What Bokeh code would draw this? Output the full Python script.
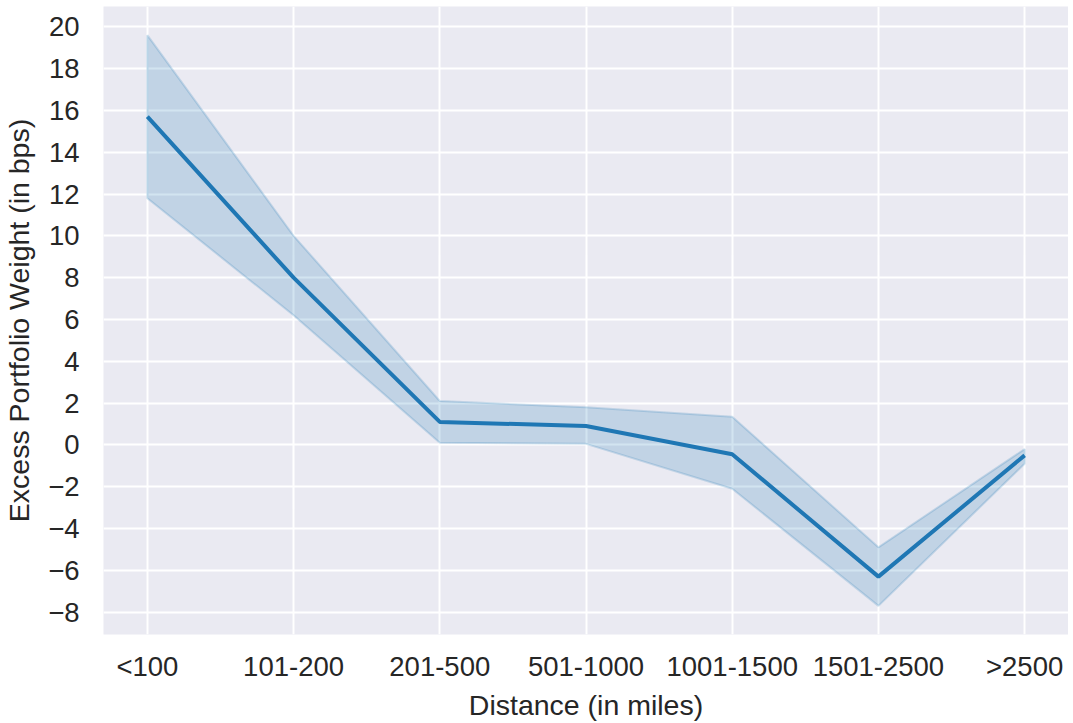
from bokeh.plotting import figure
from bokeh.models import FixedTicker, CustomJSTickFormatter, Range1d
from bokeh.embed import file_html
from bokeh.resources import INLINE

categories = ["<100", "101-200", "201-500", "501-1000", "1001-1500", "1501-2500", ">2500"]
mean_vals = [15.7, 8.0, 1.1, 0.9, -0.45, -6.3, -0.5]
upper_vals = [19.6, 10.0, 2.1, 1.8, 1.35, -4.9, -0.2]
lower_vals = [11.8, 6.2, 0.1, 0.05, -2.1, -7.7, -0.9]
y_ticks = [-8, -6, -4, -2, 0, 2, 4, 6, 8, 10, 12, 14, 16, 18, 20]

xs = list(range(len(categories)))
FONT = "Liberation Sans"
TXT = "#262626"
BLUE = "#1f77b4"

p = figure(frame_width=965, frame_height=628, output_backend="svg", toolbar_location=None,
           x_range=Range1d(-0.3, 6.3), y_range=Range1d(-9.07, 20.97),
           min_border_left=98, min_border_right=0, min_border_top=6, min_border_bottom=81)
p.background_fill_color = "#EAEAF2"
p.border_fill_color = "white"
p.outline_line_color = None

p.patch(xs + xs[::-1], upper_vals + lower_vals[::-1], fill_color=BLUE, fill_alpha=0.2,
        line_color=BLUE, line_alpha=0.2, line_width=2)
p.line(xs, mean_vals, line_color=BLUE, line_width=4)

p.xaxis.ticker = FixedTicker(ticks=xs)
p.xaxis.formatter = CustomJSTickFormatter(args=dict(labels=categories),
                                          code="return labels[Math.round(tick)];")
p.yaxis.ticker = FixedTicker(ticks=y_ticks)
p.yaxis.formatter = CustomJSTickFormatter(code="return tick < 0 ? '\u2212' + Math.abs(tick) : String(tick);")

for ax in (p.xaxis[0], p.yaxis[0]):
    ax.axis_line_color = None
    ax.major_tick_line_color = None
    ax.minor_tick_line_color = None
    ax.major_label_text_font = FONT
    ax.major_label_text_font_size = "27.5px"
    ax.major_label_text_color = TXT
    ax.axis_label_text_font = FONT
    ax.axis_label_text_font_size = "28.5px"
    ax.axis_label_text_color = TXT
    ax.axis_label_text_font_style = "normal"

p.xaxis.axis_label = "Distance (in miles)"
p.yaxis.axis_label = "Excess Portfolio Weight (in bps)"
p.xaxis.major_label_standoff = 10
p.yaxis.major_label_standoff = 18
p.xaxis.axis_label_standoff = 4
p.yaxis.axis_label_standoff = 10

p.grid.grid_line_color = "white"
p.grid.grid_line_width = 2
p.xgrid.ticker = FixedTicker(ticks=xs)
p.ygrid.ticker = FixedTicker(ticks=y_ticks)

open("out.html", "w").write(file_html(p, INLINE))
